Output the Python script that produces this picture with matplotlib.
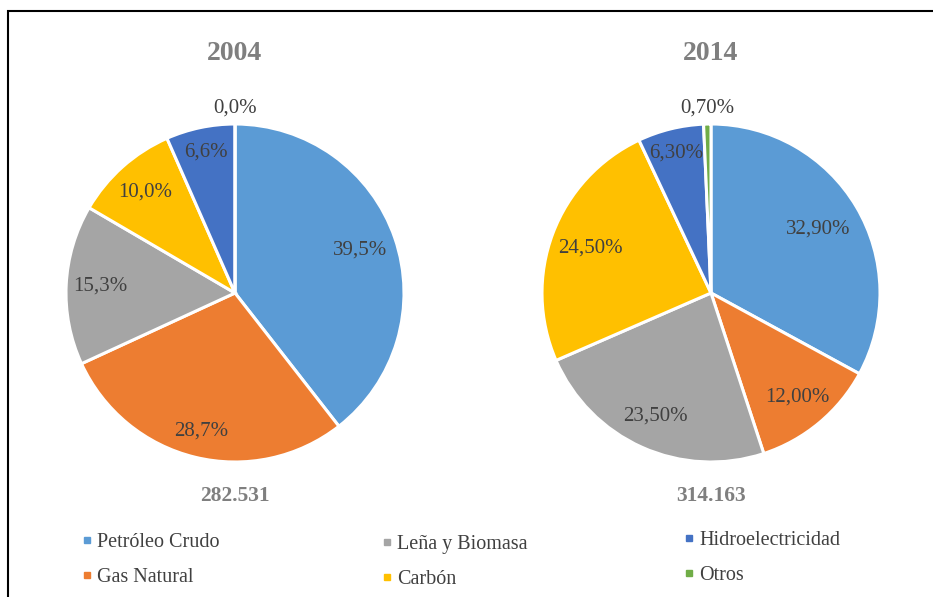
import numpy as np
import matplotlib
matplotlib.use("Agg")
import matplotlib.pyplot as plt
from matplotlib.lines import Line2D
from matplotlib.patches import Rectangle

# ---------------- data ----------------
categories = ['Petróleo Crudo', 'Gas Natural', 'Leña y Biomasa', 'Carbón',
              'Hidroelectricidad', 'Otros']
colors = ['#5B9BD5', '#ED7D31', '#A5A5A5', '#FFC000', '#4472C4', '#70AD47']
years = ['2004', '2014']
values_2004 = [39.5, 28.7, 15.3, 10.0, 6.6, 0.0]
values_2014 = [32.9, 12.0, 23.5, 24.5, 6.3, 0.7]
labels_2004 = ['39,5%', '28,7%', '15,3%', '10,0%', '6,6%', '0,0%']
labels_2014 = ['32,90%', '12,00%', '23,50%', '24,50%', '6,30%', '0,70%']
totals = ['282.531', '314.163']

# ---------------- layout ----------------
serif = ['Liberation Serif', 'DejaVu Serif']
plt.rcParams['font.family'] = serif

W, H = 933, 597
centers = [(235, 293), (711, 293)]
R = 169
label_dist = [[0.78, 0.84, 0.80, 0.80, 0.85, 1.095],
              [0.74, 0.80, 0.80, 0.76, 0.85, 1.095]]
title_color = '#7F7F7F'
text_color = '#404040'

fig = plt.figure(figsize=(W / 100, H / 100), dpi=100)
fig.patch.set_facecolor('white')

all_values = [values_2004, values_2014]
all_labels = [labels_2004, labels_2014]

for i, (cx, cy) in enumerate(centers):
    ax = fig.add_axes([(cx - R) / W, (H - cy - R) / H, 2 * R / W, 2 * R / H])
    wedges, _ = ax.pie(all_values[i], colors=colors, startangle=90,
                       counterclock=False, radius=1,
                       wedgeprops=dict(edgecolor='white', linewidth=2.2))
    ax.set_xlim(-1, 1)
    ax.set_ylim(-1, 1)
    ax.axis('off')
    for w, lab, d in zip(wedges, all_labels[i], label_dist[i]):
        ang = np.deg2rad((w.theta1 + w.theta2) / 2)
        ax.text(d * np.cos(ang), d * np.sin(ang), lab, ha='center', va='center',
                fontsize=15, color=text_color, clip_on=False)
    fig.text(cx / W, 1 - 54 / H, years[i], ha='center', va='center',
             fontsize=20, fontweight='bold', color=title_color)
    fig.text(cx / W, 1 - 496 / H, totals[i], ha='center', va='center',
             fontsize=15.5, fontweight='bold', color=title_color)

# legend: three columns
handles = [Line2D([], [], marker='s', linestyle='', color=c, markersize=5)
           for c in colors]
col_anchor = [(83, 533), (383, 535), (685, 531)]
for j, (ax_x, ax_y) in enumerate(col_anchor):
    leg = fig.legend(handles[2 * j:2 * j + 2], categories[2 * j:2 * j + 2],
                     loc='upper left', bbox_to_anchor=(ax_x / W, 1 - ax_y / H),
                     frameon=False, borderpad=0, borderaxespad=0,
                     handlelength=0.4, handletextpad=0.3, labelspacing=0.8,
                     prop=dict(family=serif, size=14.5))
    for t in leg.get_texts():
        t.set_color(text_color)

# outer border (cropped on right and bottom)
fig.add_artist(Rectangle((8 / W, -0.1), 1.2, (H - 10.5) / H + 0.1,
                         transform=fig.transFigure, fill=False,
                         edgecolor='black', linewidth=1.5))

fig.savefig('out.png', dpi=100, facecolor='white')
